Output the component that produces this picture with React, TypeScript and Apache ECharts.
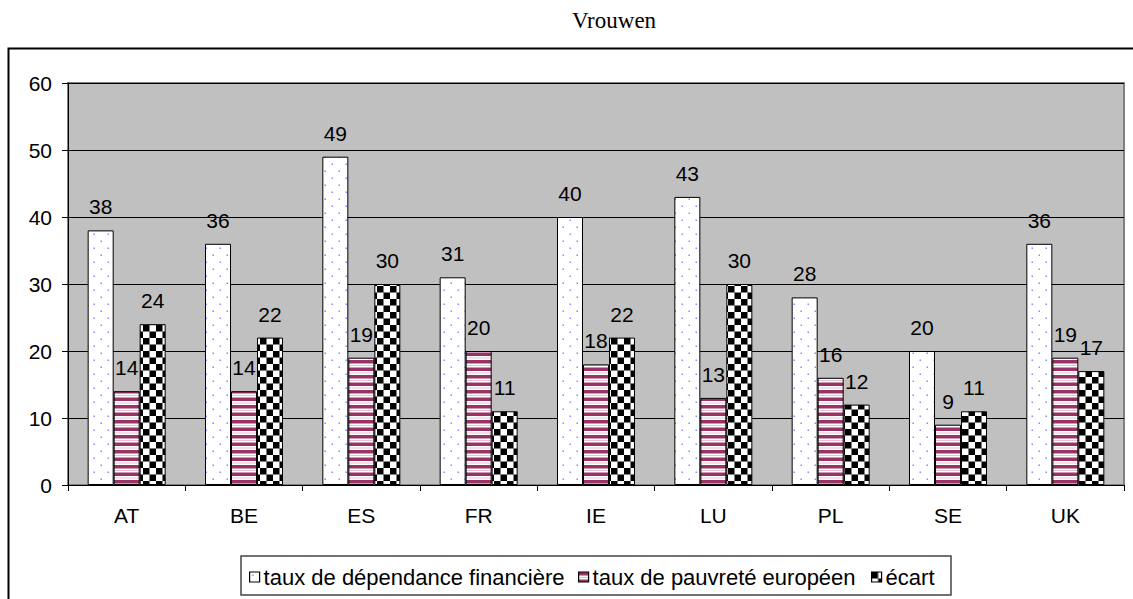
import React, { useEffect, useRef } from "react";
import * as echarts from "echarts";

const categories = ["AT", "BE", "ES", "FR", "IE", "LU", "PL", "SE", "UK"];
const dependance = [38, 36, 49, 31, 40, 43, 28, 20, 36];
const pauvrete = [14, 14, 19, 20, 18, 13, 16, 9, 19];
const ecart = [24, 22, 30, 11, 22, 30, 12, 11, 17];
const seriesNames = [
  "taux de dépendance financière",
  "taux de pauvreté européen",
  "écart",
];
const titleText = "Vrouwen";

const SANS = "'Liberation Sans', Arial, sans-serif";

function makeCanvas(w: number, h: number, draw: (ctx: CanvasRenderingContext2D) => void) {
  const c = document.createElement("canvas");
  c.width = w;
  c.height = h;
  const ctx = c.getContext("2d")!;
  draw(ctx);
  return c;
}

function dotPattern() {
  const c = makeCanvas(28, 28, (ctx) => {
    ctx.fillStyle = "#ffffff";
    ctx.fillRect(0, 0, 28, 28);
    ctx.fillStyle = "#8a8aff";
    ctx.fillRect(5, 5, 3, 3);
    ctx.fillRect(19, 19, 3, 3);
  });
  return { image: c, repeat: "repeat", scaleX: 0.5, scaleY: 0.5 } as any;
}

function stripePattern() {
  const c = makeCanvas(8, 30, (ctx) => {
    ctx.fillStyle = "#ffffff";
    ctx.fillRect(0, 0, 8, 30);
    ctx.fillStyle = "#993366";
    ctx.fillRect(0, 0, 8, 7);
    ctx.fillRect(0, 15, 8, 7);
    ctx.fillStyle = "#e6c3d4";
    ctx.fillRect(0, 10, 8, 2);
    ctx.fillRect(0, 25, 8, 2);
  });
  return { image: c, repeat: "repeat", scaleX: 0.5, scaleY: 0.5 } as any;
}

function checkerPattern() {
  const c = makeCanvas(26, 26, (ctx) => {
    ctx.fillStyle = "#ffffff";
    ctx.fillRect(0, 0, 26, 26);
    ctx.fillStyle = "#000000";
    ctx.fillRect(0, 0, 13, 13);
    ctx.fillRect(13, 13, 13, 13);
  });
  return { image: c, repeat: "repeat", scaleX: 0.5, scaleY: 0.5 } as any;
}

export default function App() {
  const ref = useRef<HTMLDivElement>(null);

  useEffect(() => {
    document.body.style.margin = "0";
    document.body.style.overflow = "hidden";
    const chart = echarts.init(ref.current!, undefined, { renderer: "svg" });

    const fills = [dotPattern(), stripePattern(), checkerPattern()];
    const datasets = [dependance, pauvrete, ecart];

    const series = datasets.map((d, i) => ({
      name: seriesNames[i],
      type: "bar",
      data: d,
      barWidth: 26,
      barGap: "0%",
      itemStyle: { color: fills[i], borderColor: "#000", borderWidth: 1 },
      label: {
        show: true,
        position: "top",
        distance: 13,
        fontFamily: SANS,
        fontSize: 21,
        color: "#000",
      },
    }));

    const legendLefts = [249, 578, 871];
    const legends = seriesNames.map((n, i) => ({
      data: [n],
      left: legendLefts[i],
      top: 566,
      padding: 0,
      itemWidth: 10,
      itemHeight: 10,
      itemGap: 4,
      icon: "rect",
      itemStyle: { borderColor: "#000", borderWidth: 1.2 },
      textStyle: {
        fontFamily: SANS,
        fontSize: 22,
        color: "#000",
        lineHeight: 22,
        padding: [0, 0, 0, -1],
      },
      selectedMode: false,
    }));

    chart.setOption({
      animation: false,
      backgroundColor: "#ffffff",
      title: {
        text: titleText,
        left: 614,
        top: 9,
        padding: 0,
        textAlign: "center",
        textStyle: {
          fontFamily: "'Liberation Serif', 'Times New Roman', serif",
          fontSize: 23,
          fontWeight: "normal",
          color: "#000",
        },
      },
      legend: legends,
      graphic: [
        {
          type: "rect",
          shape: { x: 8.5, y: 48.5, width: 1300, height: 800 },
          style: { fill: "none", stroke: "#000", lineWidth: 2 },
          silent: true,
          z: 100,
        },
        {
          type: "rect",
          shape: { x: 241, y: 556, width: 710, height: 39 },
          style: { fill: "#fff", stroke: "#444", lineWidth: 1.5 },
          silent: true,
          z: -1,
        },
      ],
      grid: {
        left: 68,
        right: 9,
        top: 83,
        bottom: 114,
        show: true,
        backgroundColor: "#c0c0c0",
        borderColor: "#808080",
        borderWidth: 2,
      },
      xAxis: {
        type: "category",
        data: categories,
        axisLine: { lineStyle: { color: "#000", width: 1 } },
        axisTick: { show: true, length: 6, lineStyle: { color: "#000" } },
        axisLabel: {
          margin: 20,
          fontFamily: SANS,
          fontSize: 21,
          color: "#000",
        },
      },
      yAxis: {
        type: "value",
        min: 0,
        max: 60,
        interval: 10,
        axisLine: { show: true, lineStyle: { color: "#000", width: 1 } },
        axisTick: { show: true, length: 6, lineStyle: { color: "#000" } },
        axisLabel: {
          margin: 16,
          fontFamily: SANS,
          fontSize: 21,
          color: "#000",
        },
        splitLine: { show: true, lineStyle: { color: "#000", width: 1 } },
      },
      series,
    } as any);

    return () => chart.dispose();
  }, []);

  return <div ref={ref} style={{ width: 1133, height: 599 }} />;
}
